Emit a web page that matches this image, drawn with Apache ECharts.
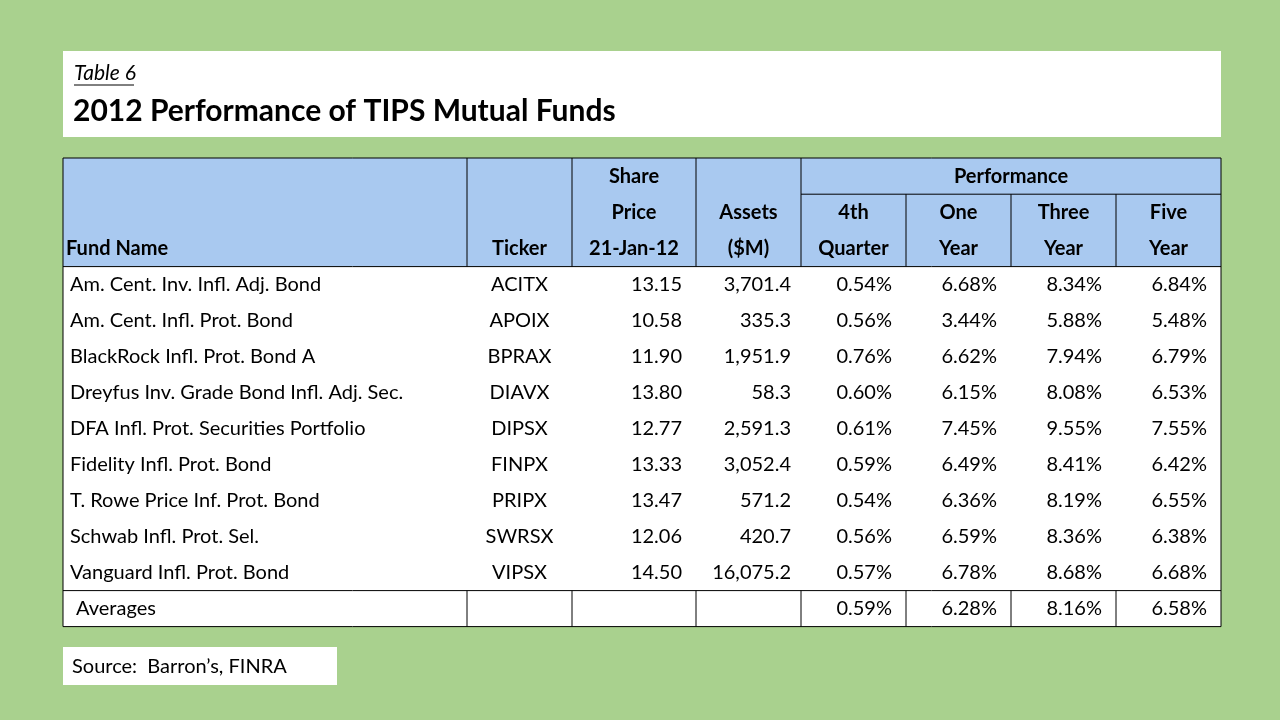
<!DOCTYPE html>
<html><head><meta charset="utf-8">
<script src="https://cdn.jsdelivr.net/npm/echarts@6/dist/echarts.min.js"></script>
<style>html,body{margin:0;padding:0;background:#a9d18e}#c{width:1280px;height:720px}</style>
</head><body><div id="c"></div>
<script>
var funds = ['Am. Cent. Inv. Infl. Adj. Bond','Am. Cent. Infl. Prot. Bond','BlackRock Infl. Prot. Bond A','Dreyfus Inv. Grade Bond Infl. Adj. Sec.','DFA Infl. Prot. Securities Portfolio','Fidelity Infl. Prot. Bond','T. Rowe Price Inf. Prot. Bond','Schwab Infl. Prot. Sel.','Vanguard Infl. Prot. Bond'];
var tickers = ['ACITX','APOIX','BPRAX','DIAVX','DIPSX','FINPX','PRIPX','SWRSX','VIPSX'];
var prices = ['13.15','10.58','11.90','13.80','12.77','13.33','13.47','12.06','14.50'];
var assets = ['3,701.4','335.3','1,951.9','58.3','2,591.3','3,052.4','571.2','420.7','16,075.2'];
var q4 = ['0.54%','0.56%','0.76%','0.60%','0.61%','0.59%','0.54%','0.56%','0.57%'];
var oneYear = ['6.68%','3.44%','6.62%','6.15%','7.45%','6.49%','6.36%','6.59%','6.78%'];
var threeYear = ['8.34%','5.88%','7.94%','8.08%','9.55%','8.41%','8.19%','8.36%','8.68%'];
var fiveYear = ['6.84%','5.48%','6.79%','6.53%','7.55%','6.42%','6.55%','6.38%','6.68%'];
var averages = ['Averages','','','','0.59%','6.28%','8.16%','6.58%'];
var headers = [['','','Share','','','','',''],['','','Price','Assets','4th','One','Three','Five'],['Fund Name','Ticker','21-Jan-12','($M)','Quarter','Year','Year','Year']];

var FONT = 'Lato, "Open Sans", sans-serif';
var colX = [63,467,572,696,801,906,1011,1116,1221];
var top0 = 158, hRow = 36.2, dRow = 36;
var g = [];
function txt(x,y,s,o){g.push({type:'text',x:x,y:y,style:Object.assign({text:s,fontFamily:FONT,fontSize:20,fill:'#000',textVerticalAlign:'middle'},o||{})});}
function line(x1,y1,x2,y2){g.push({type:'line',shape:{x1:x1,y1:y1,x2:x2,y2:y2},style:{stroke:'#000',lineWidth:1}});}

// title box
g.push({type:'rect',shape:{x:63,y:51,width:1158,height:86},style:{fill:'#fff'}});
txt(74,73,'Table 6',{fontStyle:'italic',fontSize:21});
line(74,85,134,85);
txt(73,111,'2012 Performance of TIPS Mutual Funds',{fontWeight:'bold',fontSize:30});

// table
var hdrBot = top0 + 3*hRow;
var rowsN = funds.length + 1;
var tblBot = hdrBot + rowsN*dRow;
g.push({type:'rect',shape:{x:63,y:top0,width:1158,height:hdrBot-top0},style:{fill:'#a9c9f0'}});
g.push({type:'rect',shape:{x:63,y:hdrBot,width:1158,height:tblBot-hdrBot},style:{fill:'#fff'}});
g.push({type:'rect',shape:{x:63,y:top0,width:1158,height:tblBot-top0},style:{fill:'none',stroke:'#000',lineWidth:1}});
for (var i=1;i<8;i++){ if(i>=5){line(colX[i],top0+hRow,colX[i],hdrBot);} else {line(colX[i],top0,colX[i],hdrBot);} }
line(801,top0+hRow,1221,top0+hRow);
line(63,hdrBot,1221,hdrBot);
var avgTop = hdrBot + funds.length*dRow;
line(63,avgTop,1221,avgTop);
for (var i=1;i<8;i++) line(colX[i],avgTop,colX[i],tblBot);

txt(1011,top0+hRow/2,'Performance',{fontWeight:'bold',textAlign:'center'});
headers.forEach(function(r,ri){
  r.forEach(function(s,ci){
    if(!s) return;
    var y = top0 + ri*hRow + hRow/2;
    if(ci===0) txt(66,y,s,{fontWeight:'bold'});
    else txt((colX[ci]+colX[ci+1])/2,y,s,{fontWeight:'bold',textAlign:'center'});
  });
});

var cols = [funds,tickers,prices,assets,q4,oneYear,threeYear,fiveYear];
for (var r=0;r<rowsN;r++){
  var y = hdrBot + r*dRow + dRow/2;
  for (var c=0;c<8;c++){
    var s = r<funds.length ? cols[c][r] : averages[c];
    if(!s) continue;
    if(c===0) txt(r<funds.length?70:76,y,s);
    else if(c===1) txt((colX[1]+colX[2])/2,y,s,{textAlign:'center'});
    else txt(colX[c+1]-14+(c===3?4:0),y,s,{textAlign:'right'});
  }
}

// source box
g.push({type:'rect',shape:{x:63,y:647,width:274,height:38},style:{fill:'#fff'}});
txt(72,667,'Source:  Barron\u2019s, FINRA');

var chart = echarts.init(document.getElementById('c'));
chart.setOption({backgroundColor:'#a9d18e',graphic:g});
</script></body></html>
